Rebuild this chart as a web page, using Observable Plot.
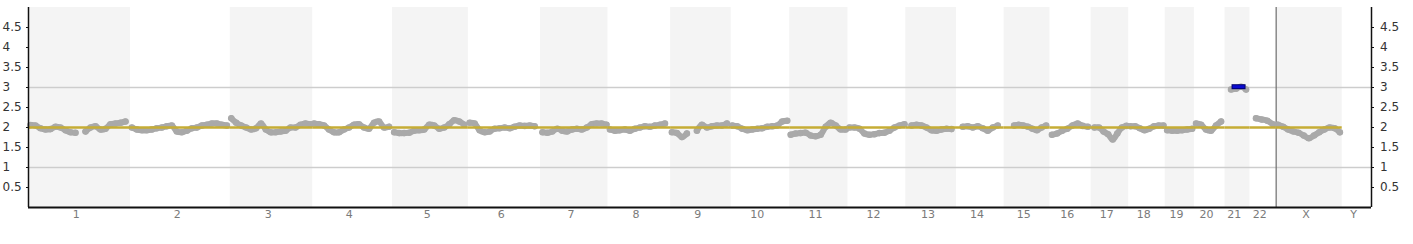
<!DOCTYPE html>
<html><head><meta charset="utf-8">
<script src="https://cdn.jsdelivr.net/npm/d3@7"></script>
<script src="https://cdn.jsdelivr.net/npm/@observablehq/plot@0.6"></script>
<style>
html,body{margin:0;padding:0;background:#fff}
#chart svg{display:block;font-family:"DejaVu Sans",sans-serif}
</style>
</head><body><div id="chart"></div>
<script>
// ---- data ----
const chromosomes = ["1","2","3","4","5","6","7","8","9","10","11","12","13","14","15","16","17","18","19","20","21","22","X","Y"];
const chromLengthMb = [249.25,243.2,198.0,191.15,180.9,171.1,159.1,146.4,141.2,135.5,135.0,133.9,115.2,107.3,102.5,90.4,81.2,78.1,59.1,63.0,48.1,51.3,155.3,59.4];
const gapMb = 17;
const expectedCN = [2,2,2,2,2,2,2,2,2,2,2,2,2,2,2,2,2,2,2,2,2,2,2,null];
const yTicks = [0.5,1,1.5,2,2.5,3,3.5,4,4.5];
const gridValues = [1,3];
// covered region of each chromosome (Mb, relative to chromosome start)
const coverageStartMb = [5.2,3.4,2.6,3.4,4.4,3.4,5.2,5.2,3.4,2.6,2.6,3.9,14.9,16.4,26.1,5.2,8.6,4.4,5.2,4.4,15.7,15.7,4.4,null];
const coverageEndMb   = [253.1,251.2,208.7,199.1,187.1,173.0,172.2,148.7,146.9,146.1,146.1,147.4,119.2,107.7,109.6,99.1,92.1,90.5,70.4,69.7,54.8,60.0,166.2,null];
// smoothed copy-number profile, evenly spaced over the covered region
const cn1  = [2.06,2.05,1.98,1.95,1.96,2.02,2.0,1.93,1.88,1.87,null,1.9,2.0,2.03,1.95,1.97,2.08,2.1,2.12,2.15];
const cn2  = [2.0,1.95,1.93,1.93,1.95,1.98,2.0,2.03,2.05,1.9,1.88,1.92,1.98,2.0,2.05,2.07,2.1,2.1,2.07,2.05];
const cn3  = [2.23,2.12,2.05,2.0,1.95,1.98,2.1,1.95,1.88,1.88,1.9,1.92,2.0,2.0,2.07,2.1,2.08];
const cn4  = [2.1,2.08,2.05,1.95,1.88,1.88,1.95,2.0,2.07,2.08,2.0,1.97,2.12,2.15,2.0,2.02];
const cn5  = [1.88,1.86,1.86,1.87,1.92,1.93,1.95,2.07,2.05,1.97,2.0,2.08,2.18,2.15,2.07];
const cn6  = [2.12,2.1,1.93,1.88,1.9,1.97,1.98,2.0,1.98,2.02,2.05,2.04,2.05,2.03];
const cn7  = [1.88,1.87,1.9,1.97,1.92,1.9,1.95,1.97,1.95,2.0,2.08,2.1,2.1,2.07];
const cn8  = [1.95,1.92,1.93,1.95,1.92,1.97,2.0,2.03,2.02,2.05,2.07,2.1];
const cn9  = [1.88,1.86,1.76,1.85,null,1.92,2.07,2.0,2.03,2.05,2.05,2.1];
const cn10 = [2.05,2.03,1.97,1.93,1.95,1.97,1.98,2.02,2.03,2.05,2.15,2.17];
const cn11 = [1.82,1.85,1.86,1.87,1.8,1.78,1.82,2.02,2.12,2.05,1.95,1.95];
const cn12 = [2.0,2.0,1.97,1.85,1.82,1.83,1.86,1.87,1.92,2.0,2.05,2.08];
const cn13 = [2.05,2.07,2.05,2.0,1.93,1.92,1.95,1.97,1.96];
const cn14 = [2.02,2.03,2.0,2.03,1.98,1.92,2.0,2.05];
const cn15 = [2.05,2.07,2.05,2.02,1.97,1.93,2.0,2.05];
const cn16 = [1.82,1.85,1.92,1.97,2.05,2.1,2.04,2.02];
const cn17 = [2.0,2.0,1.9,1.83,1.7,1.85,2.0,2.04];
const cn18 = [2.03,2.03,1.98,1.93,1.97,2.03,2.05,2.05];
const cn19 = [1.93,1.92,1.92,1.93,1.95,1.97];
const cn20 = [2.1,2.07,1.95,1.92,2.05,2.15];
const cn21 = [2.95,2.97,3.02,2.95];
const cn22 = [2.23,2.2,2.17,2.08];
const cnX  = [2.07,2.02,1.95,1.9,1.87,1.8,1.73,1.8,1.88,1.95,2.0,1.98,1.88];
const cnY  = [];
const profiles = [cn1,cn2,cn3,cn4,cn5,cn6,cn7,cn8,cn9,cn10,cn11,cn12,cn13,cn14,cn15,cn16,cn17,cn18,cn19,cn20,cn21,cn22,cnX,cnY];
// called gain segment
const segChrom = ["21"];
const segStartMb = [18.3];
const segEndMb = [54.8];
const segCN = [3.02];

// ---- derived tables ----
let acc = 0;
const chromRows = chromosomes.map((name, i) => {
  const start = acc;
  acc += chromLengthMb[i] + gapMb;
  return {name, i, start, end: start + chromLengthMb[i], bandEnd: acc,
          mid: start + chromLengthMb[i] / 2, expected: expectedCN[i]};
});
const total = acc;
const offsetOf = Object.fromEntries(chromRows.map(d => [d.name, d.start]));

const points = [];
chromRows.forEach((c, i) => {
  const vals = profiles[i];
  const n = vals.length;
  vals.forEach((v, k) => {
    const pos = coverageStartMb[i] + (n > 1 ? k * (coverageEndMb[i] - coverageStartMb[i]) / (n - 1) : 0);
    points.push({chrom: c.name, x: c.start + pos, cn: v});
  });
});
const segments = segChrom.map((c, i) => ({x1: offsetOf[c] + segStartMb[i], x2: offsetOf[c] + segEndMb[i], cn: segCN[i]}));
const xStart = offsetOf["X"];

const grey = "#a9a9a9";
const chart = Plot.plot({
  width: 1413, height: 244,
  marginLeft: 28, marginRight: 42, marginTop: 7, marginBottom: 37,
  x: {domain: [0, total], axis: null},
  y: {domain: [0, 5], axis: null},
  style: {fontFamily: "DejaVu Sans, sans-serif", fontSize: "11px", background: "#fff"},
  marks: [
    Plot.rect(chromRows.filter(d => d.i % 2 === 0 && d.name !== "Y"), {x1: "start", x2: "bandEnd", fill: "#f4f4f4"}),
    Plot.ruleY(gridValues, {stroke: "#cdcdcd", strokeWidth: 1.5}),
    Plot.ruleX([xStart], {stroke: "#6e6e6e", strokeWidth: 1.2}),
    Plot.line(points, {x: "x", y: "cn", z: "chrom", stroke: grey, strokeWidth: 6, strokeLinecap: "round", strokeLinejoin: "round", curve: "catmull-rom"}),
    Plot.dot(points, {x: "x", y: "cn", r: 3.3, fill: grey, stroke: null}),
    Plot.ruleY(chromRows.filter(d => d.expected != null), {y: "expected", x1: "start", x2: "bandEnd", stroke: "#c6ad35", strokeWidth: 2.5}),
    Plot.ruleY(segments, {y: "cn", x1: "x1", x2: "x2", stroke: "#000070", strokeWidth: 5}),
    Plot.ruleY(segments, {y: "cn", x1: "x1", x2: "x2", stroke: "#0a0ad0", strokeWidth: 3, insetLeft: 1, insetRight: 1}),
    Plot.ruleX([0, total], {stroke: "#111", strokeWidth: 1.5}),
    Plot.ruleY([0], {stroke: "#111", strokeWidth: 2}),
    Plot.axisY({anchor: "left", ticks: yTicks, tickSize: 2, tickFormat: () => "", label: null, stroke: "#111"}),
    Plot.axisY({anchor: "right", ticks: yTicks, tickSize: 2, tickFormat: () => "", label: null, stroke: "#111"}),
    Plot.text(yTicks, {y: d => d, text: d => String(d), frameAnchor: "left", textAnchor: "start", dx: -26, fill: "#333", fontSize: 12}),
    Plot.text(yTicks, {y: d => d, text: d => String(d), frameAnchor: "right", textAnchor: "start", dx: 8.5, fill: "#333", fontSize: 12}),
    Plot.text(chromRows, {x: "mid", text: "name", frameAnchor: "bottom", dy: 10, fill: "#7a7a7a", fontSize: 11})
  ]
});
document.getElementById("chart").appendChild(chart);
</script>
</body></html>
